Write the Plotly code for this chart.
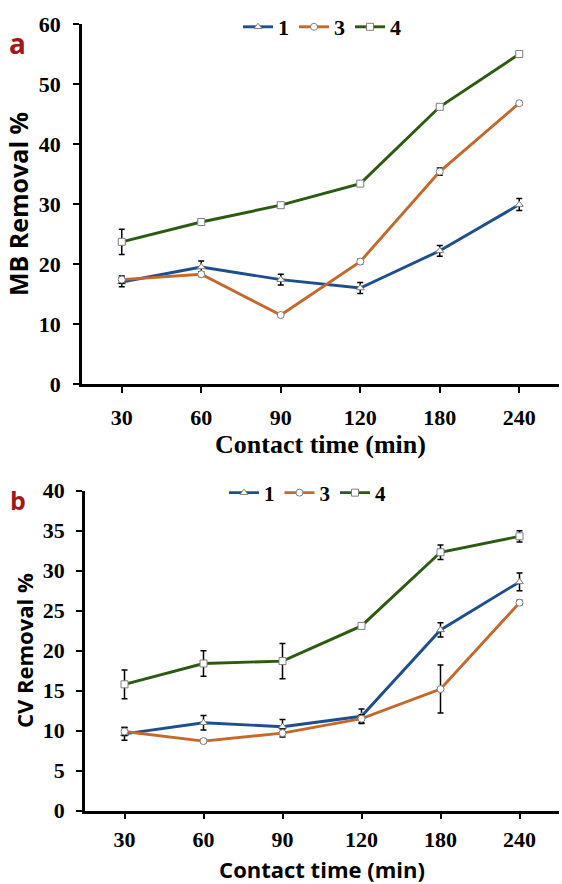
import plotly.graph_objects as go

times = ["30", "60", "90", "120", "180", "240"]

# Panel a: MB removal %
mb_1 = [17.0, 19.5, 17.4, 16.0, 22.2, 29.9]
mb_1_err = [0.8, 1.0, 0.9, 0.9, 0.9, 1.0]
mb_3 = [17.4, 18.3, 11.5, 20.4, 35.4, 46.8]
mb_3_err = [0.6, 0.4, 0.2, 0.4, 0.6, 0.3]
mb_4 = [23.7, 27.0, 29.8, 33.4, 46.2, 55.0]
mb_4_err = [2.1, 0.3, 0.3, 0.3, 0.3, 0.4]

# Panel b: CV removal %
cv_1 = [9.6, 11.0, 10.5, 11.8, 22.6, 28.6]
cv_1_err = [0.8, 0.9, 0.9, 0.9, 0.9, 1.1]
cv_3 = [9.9, 8.7, 9.7, 11.5, 15.2, 26.0]
cv_3_err = [0.5, 0.2, 0.5, 0.5, 3.0, 0.3]
cv_4 = [15.8, 18.4, 18.7, 23.1, 32.3, 34.3]
cv_4_err = [1.8, 1.6, 2.2, 0.3, 0.9, 0.7]

series_names = ["1", "3", "4"]
colors = ["#1f4e8c", "#c4682b", "#2b5a10"]
symbols = ["triangle-up", "circle", "square"]

fig = go.Figure()

def add_series(x, y, err, i, xa, ya, legend):
    fig.add_trace(go.Scatter(
        x=x, y=y, name=series_names[i], mode="lines+markers",
        line=dict(color=colors[i], width=2.9),
        marker=dict(symbol=symbols[i], size=7, color="white",
                    line=dict(color="#7f7f7f", width=1)),
        error_y=dict(type="data", array=err, visible=True,
                     color="black", thickness=1.5, width=3),
        xaxis=xa, yaxis=ya, legend=legend,
    ))

for i, (y, e) in enumerate([(mb_1, mb_1_err), (mb_3, mb_3_err), (mb_4, mb_4_err)]):
    add_series(times, y, e, i, "x", "y", "legend")
for i, (y, e) in enumerate([(cv_1, cv_1_err), (cv_3, cv_3_err), (cv_4, cv_4_err)]):
    add_series(times, y, e, i, "x2", "y2", "legend2")

W, H = 562, 884
serif = "Liberation Serif"
sans = "Open Sans"

axis_common = dict(showline=True, linecolor="black", linewidth=2.5,
                   showgrid=False, zeroline=False, ticks="outside",
                   ticklen=6, tickwidth=2, tickcolor="black", automargin=False)

fig.update_layout(
    width=W, height=H,
    margin=dict(l=0, r=0, t=0, b=0, autoexpand=False),
    paper_bgcolor="white", plot_bgcolor="white",
    showlegend=True,
    xaxis=dict(domain=[82 / W, 559 / W], anchor="y", type="category",
               range=[-0.5, 5.5], ticklabelstandoff=6,
               tickfont=dict(family=serif, size=22, color="black", weight="bold"),
               title=dict(text="Contact time (min)", standoff=4,
                          font=dict(family=serif, size=26, color="black", weight="bold")),
               **axis_common),
    yaxis=dict(domain=[1 - 384 / H, 1 - 24 / H], anchor="x", range=[0, 60],
               tickvals=[0, 10, 20, 30, 40, 50, 60], ticklabelstandoff=8,
               tickfont=dict(family=serif, size=22, color="black", weight="bold"),
               title=dict(text="MB Removal %", standoff=4,
                          font=dict(family=sans, size=25, color="black", weight="bold")),
               **axis_common),
    xaxis2=dict(domain=[85 / W, 559 / W], anchor="y2", type="category",
                range=[-0.5, 5.5], ticklabelstandoff=1,
                tickfont=dict(family=serif, size=22, color="black", weight="bold"),
                title=dict(text="Contact time (min)", standoff=14,
                           font=dict(family=sans, size=22, color="black", weight="bold")),
                **axis_common),
    yaxis2=dict(domain=[1 - 810.7 / H, 1 - 490.7 / H], anchor="x2", range=[0, 40],
                tickvals=[0, 5, 10, 15, 20, 25, 30, 35, 40], ticklabelstandoff=7,
                tickfont=dict(family=serif, size=22, color="black", weight="bold"),
                title=dict(text="CV Removal %", standoff=4,
                           font=dict(family=sans, size=22, color="black", weight="bold")),
                **axis_common),
    legend=dict(orientation="h", x=238 / W, y=1 - 27 / H, xanchor="left", yanchor="middle",
                itemwidth=30, bgcolor="rgba(0,0,0,0)",
                font=dict(family=serif, size=22, color="black", weight="bold")),
    legend2=dict(orientation="h", x=224 / W, y=1 - 493 / H, xanchor="left", yanchor="middle",
                 itemwidth=30, bgcolor="rgba(0,0,0,0)",
                 font=dict(family=serif, size=21, color="black", weight="bold")),
    annotations=[
        dict(text="a", x=17 / W, y=1 - 43 / H, xref="paper", yref="paper",
             xanchor="center", yanchor="middle", showarrow=False,
             font=dict(family=sans, size=28, color="#a5171c", weight="bold")),
        dict(text="b", x=18 / W, y=1 - 500 / H, xref="paper", yref="paper",
             xanchor="center", yanchor="middle", showarrow=False,
             font=dict(family=sans, size=25, color="#a5171c", weight="bold")),
    ],
)

fig.write_html("out.html")
